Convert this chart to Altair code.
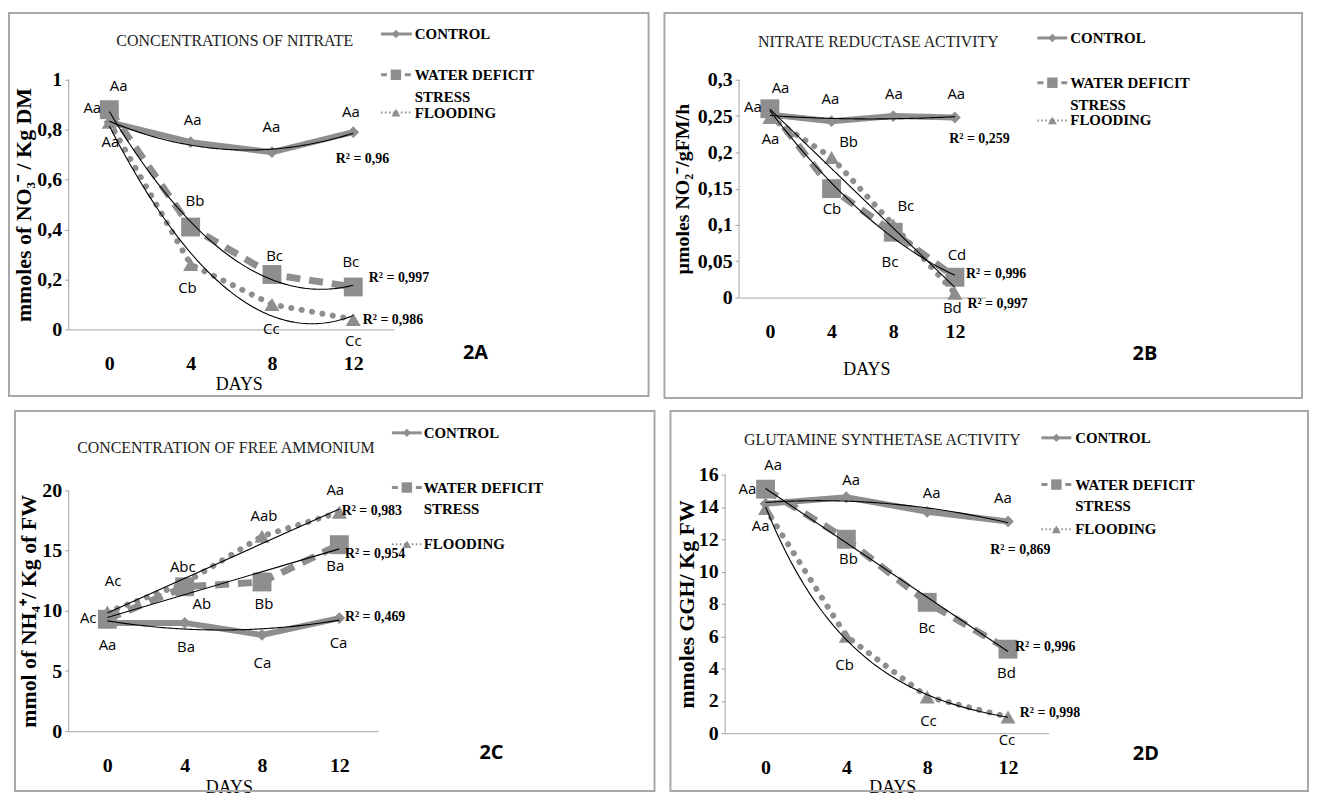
import altair as alt
import pandas as pd

DAYS = [0, 4, 8, 12]
SERIES = ["CONTROL", "WATER DEFICIT STRESS", "FLOODING"]
LEGEND_TEXT = [["CONTROL"], ["WATER DEFICIT", "STRESS"], ["FLOODING"]]

# ---------------- Panel 2A ----------------
A_TITLE = "CONCENTRATIONS OF NITRATE"
A_YTITLE = "mmoles of NO₃⁻ / Kg DM"
A_CONTROL = [0.83, 0.75, 0.71, 0.79]
A_WATER = [0.88, 0.41, 0.22, 0.17]
A_FLOOD = [0.83, 0.26, 0.10, 0.04]
A_TREND = ["poly", "poly", "poly"]
A_YTICKS = [0, 0.2, 0.4, 0.6, 0.8, 1]
A_LET = ["Aa", "Aa", "Aa", "Aa", "Aa", "Aa", "Bb", "Cb", "Bc", "Cc", "Bc", "Cc"]
A_LET_X = [0.46, -0.84, 0.05, 4.10, 7.97, 11.88, 4.21, 3.84, 8.13, 7.97, 11.88, 12.0]
A_LET_Y = [0.975, 0.888, 0.749, 0.839, 0.809, 0.869, 0.513, 0.165, 0.295, 0.0, 0.271, -0.048]
A_R2 = ["R² = 0,96", "R² = 0,997", "R² = 0,986"]
A_R2_X = [12.45, 14.25, 13.95]
A_R2_Y = [0.683, 0.207, 0.039]

# ---------------- Panel 2B ----------------
B_TITLE = "NITRATE REDUCTASE ACTIVITY"
B_YTITLE = "µmoles NO₂⁻/gFM/h"
B_CONTROL = [0.252, 0.243, 0.250, 0.248]
B_WATER = [0.260, 0.150, 0.090, 0.028]
B_FLOOD = [0.248, 0.193, 0.100, 0.006]
B_TREND = ["poly", "poly", "linear"]
B_YTICKS = [0, 0.05, 0.1, 0.15, 0.2, 0.25, 0.3]
B_LET = ["Aa", "Aa", "Aa", "Aa", "Aa", "Aa", "Bb", "Cb", "Bc", "Bc", "Cd", "Bd"]
B_LET_X = [0.69, -1.10, 0.04, 3.92, 8.04, 12.09, 5.10, 4.02, 8.82, 7.79, 12.13, 11.83]
B_LET_Y = [0.288, 0.262, 0.218, 0.273, 0.281, 0.281, 0.214, 0.122, 0.126, 0.049, 0.058, -0.014]
B_R2 = ["R² = 0,259", "R² = 0,996", "R² = 0,997"]
B_R2_X = [13.59, 14.67, 14.77]
B_R2_Y = [0.219, 0.032, -0.009]

# ---------------- Panel 2C ----------------
C_TITLE = "CONCENTRATION OF FREE AMMONIUM"
C_YTITLE = "mmol of NH₄⁺/ Kg of FW"
C_CONTROL = [9.0, 9.0, 8.0, 9.4]
C_WATER = [9.3, 12.0, 12.4, 15.5]
C_FLOOD = [9.9, 12.3, 16.2, 18.2]
C_TREND = ["poly", "linear", "linear"]
C_YTICKS = [0, 5, 10, 15, 20]
C_LET = ["Ac", "Ac", "Aa", "Abc", "Ab", "Ba", "Aab", "Bb", "Ca", "Aa", "Ba", "Ca"]
C_LET_X = [0.30, -0.99, 0.01, 3.90, 4.89, 4.07, 8.10, 8.10, 8.02, 11.79, 11.79, 11.96]
C_LET_Y = [12.45, 9.37, 7.16, 13.64, 10.6, 7.02, 17.9, 10.6, 5.65, 20.05, 13.69, 7.3]
C_R2 = ["R² = 0,983", "R² = 0,954", "R² = 0,469"]
C_R2_X = [13.68, 13.85, 13.85]
C_R2_Y = [18.32, 14.74, 9.5]

# ---------------- Panel 2D ----------------
D_TITLE = "GLUTAMINE SYNTHETASE ACTIVITY"
D_YTITLE = "mmoles GGH/ Kg FW"
D_CONTROL = [14.2, 14.6, 13.7, 13.1]
D_WATER = [15.1, 12.0, 8.1, 5.2]
D_FLOOD = [13.9, 6.0, 2.25, 1.0]
D_TREND = ["poly", "linear", "exp"]
D_YTICKS = [0, 2, 4, 6, 8, 10, 12, 14, 16]
D_LET = ["Aa", "Aa", "Aa", "Aa", "Aa", "Aa", "Bb", "Bc", "Bd", "Cb", "Cc", "Cc"]
D_LET_X = [0.38, -0.90, -0.24, 4.24, 8.22, 11.75, 4.10, 7.98, 11.92, 3.91, 8.06, 11.95]
D_LET_Y = [16.57, 15.1, 12.8, 15.67, 14.85, 14.58, 10.75, 6.52, 3.71, 4.23, 0.78, -0.45]
D_R2 = ["R² = 0,869", "R² = 0,996", "R² = 0,998"]
D_R2_X = [12.61, 13.84, 14.08]
D_R2_Y = [11.36, 5.35, 1.25]

GRAY = "#8e8e8e"
AXIS_GRAY = "#a0a0a0"
SERIF = "Liberation Serif"
SANS = "Open Sans"

LINE_STYLE = [
    dict(strokeWidth=6),
    dict(strokeWidth=7, strokeDash=[14, 9]),
    dict(strokeWidth=6, strokeDash=[0.1, 10.5], strokeCap="round"),
]
MARK_STYLE = [
    dict(shape="diamond", size=140),
    dict(shape="square", size=360),
    dict(shape="triangle-up", size=230),
]
LEG_LINE = [
    dict(strokeWidth=3),
    dict(strokeWidth=3, strokeDash=[6, 6]),
    dict(strokeWidth=2, strokeDash=[1.5, 2.5]),
]
LEG_MARK = [
    dict(shape="diamond", size=70),
    dict(shape="square", size=110),
    dict(shape="triangle-up", size=80),
]

PANELS = [
    dict(title=A_TITLE, ytitle=A_YTITLE, vals=[A_CONTROL, A_WATER, A_FLOOD], trend=A_TREND,
         yticks=A_YTICKS, ymax=1.0, let=(A_LET, A_LET_X, A_LET_Y), r2=(A_R2, A_R2_X, A_R2_Y), tag="2A",
         w=327, h=251, border=(-60, -67, 583, 318), title_xy=(167, -39), tag_xy=(409, 275),
         leg_x=(314, 345, 329, 348), leg_y=(-46, -5, 33),
         xtitle_xy=(171, 55), ytitle_x=-45, ytitle_y=None, ytitle_size=22),
    dict(title=B_TITLE, ytitle=B_YTITLE, vals=[B_CONTROL, B_WATER, B_FLOOD], trend=B_TREND,
         yticks=B_YTICKS, ymax=0.3, let=(B_LET, B_LET_X, B_LET_Y), r2=(B_R2, B_R2_X, B_R2_Y), tag="2B",
         w=248, h=219, border=(-75, -67, 566, 320), title_xy=(140, -38), tag_xy=(408, 276),
         leg_x=(300, 330, 315, 333), leg_y=(-42, 3, 41),
         xtitle_xy=(128, 72), ytitle_x=-57, ytitle_y=None, ytitle_size=20),
    dict(title=C_TITLE, ytitle=C_YTITLE, vals=[C_CONTROL, C_WATER, C_FLOOD], trend=C_TREND,
         yticks=C_YTICKS, ymax=21.32, let=(C_LET, C_LET_X, C_LET_Y), r2=(C_R2, C_R2_X, C_R2_Y), tag="2C",
         w=311, h=258, border=(-54, -64, 589, 318), title_xy=(158, -27), tag_xy=(425, 280),
         leg_x=(325, 355, 340, 357), leg_y=(-42, 13, 70),
         xtitle_xy=(161, 57), ytitle_x=-40, ytitle_y=137, ytitle_size=22),
    dict(title=D_TITLE, ytitle=D_YTITLE, vals=[D_CONTROL, D_WATER, D_FLOOD], trend=D_TREND,
         yticks=D_YTICKS, ymax=16, let=(D_LET, D_LET_X, D_LET_Y), r2=(D_R2, D_R2_X, D_R2_Y), tag="2D",
         w=325, h=260, border=(-55, -64, 586, 318), title_xy=(158, -35), tag_xy=(423, 281),
         leg_x=(318, 348, 333, 352), leg_y=(-37, 10, 55),
         xtitle_xy=(168, 55), ytitle_x=-39, ytitle_y=None, ytitle_size=22),
]

ONE = pd.DataFrame({"k": [0]})


def make_panel(p):
    rows = []
    for s, vals in zip(SERIES, p["vals"]):
        for d, v in zip(DAYS, vals):
            rows.append({"day": d, "value": v, "series": s})
    df = pd.DataFrame(rows)

    xtx, xty = p["xtitle_xy"]
    xaxis = alt.Axis(values=DAYS, title="DAYS", grid=False, tickSize=0, labelPadding=24,
                     labelFont=SERIF, labelFontWeight="bold", labelFontSize=20, labelColor="black",
                     domainColor=AXIS_GRAY, titleFont=SERIF, titleFontWeight="normal", titleFontSize=18,
                     titleColor="black", titleX=xtx, titleY=xty, titleBaseline="middle", labelFlush=False)
    ykw = dict(titleY=p["ytitle_y"]) if p["ytitle_y"] is not None else {}
    yaxis = alt.Axis(values=p["yticks"], title=p["ytitle"], grid=False, tickSize=4, tickColor=AXIS_GRAY,
                     labelPadding=3, labelExpr="replace(format(datum.value, ''), '.', ',')",
                     labelFont=SERIF, labelFontWeight="bold", labelFontSize=20, labelColor="black",
                     domain=False, titleFont=SERIF, titleFontWeight="bold",
                     titleFontSize=p["ytitle_size"], titleColor="black", titleX=p["ytitle_x"],
                     titleBaseline="middle", **ykw)
    X = alt.X("day:Q", scale=alt.Scale(domain=[-2, 14], nice=False, zero=False), axis=xaxis)
    Y = alt.Y("value:Q", scale=alt.Scale(domain=[0, p["ymax"]], nice=False), axis=yaxis)

    bl, bt, br, bb = p["border"]
    layers = [
        alt.Chart(ONE).mark_rect(fill="transparent", stroke="#a8a8a8", strokeWidth=2).encode(
            x=alt.value(bl), x2=alt.value(br), y=alt.value(bt), y2=alt.value(bb))
    ]
    # y axis line from 0 up to the last tick
    yline = pd.DataFrame({"value": [p["yticks"][0]], "top": [p["yticks"][-1]]})
    layers.append(alt.Chart(yline).mark_rule(color=AXIS_GRAY, strokeWidth=1).encode(
        x=alt.value(0), y=Y, y2="top:Q"))

    for i, s in enumerate(SERIES):
        layers.append(alt.Chart(df).transform_filter(alt.datum.series == s)
                      .mark_line(color=GRAY, **LINE_STYLE[i]).encode(x=X, y=Y))
    for i, s in enumerate(SERIES):
        layers.append(alt.Chart(df).transform_filter(alt.datum.series == s)
                      .mark_point(filled=True, color=GRAY, opacity=1, **MARK_STYLE[i]).encode(x=X, y=Y))
    for i, s in enumerate(SERIES):
        m = p["trend"][i]
        extra = {"order": 2} if m == "poly" else {}
        layers.append(alt.Chart(df).transform_filter(alt.datum.series == s)
                      .transform_regression("day", "value", method=m, **extra)
                      .mark_line(color="black", strokeWidth=1.1).encode(x=X, y=Y))

    lt, lx, ly = p["let"]
    lab = pd.DataFrame({"day": lx, "value": ly, "t": lt})
    layers.append(alt.Chart(lab).mark_text(font=SANS, fontSize=15, color="black").encode(
        x=X, y=Y, text="t:N"))
    rt, rx, ry = p["r2"]
    r2 = pd.DataFrame({"day": rx, "value": ry, "t": rt})
    layers.append(alt.Chart(r2).mark_text(font=SERIF, fontSize=14, fontWeight="bold", color="black").encode(
        x=X, y=Y, text="t:N"))

    tx, ty = p["title_xy"]
    layers.append(alt.Chart(ONE).mark_text(text=p["title"], font=SERIF, fontSize=16, color="#222222")
                  .encode(x=alt.value(tx), y=alt.value(ty)))
    gx, gy = p["tag_xy"]
    layers.append(alt.Chart(ONE).mark_text(text=p["tag"], font=SANS, fontSize=20, fontWeight="bold",
                                           color="black").encode(x=alt.value(gx), y=alt.value(gy)))
    x0, x1, xm, xt = p["leg_x"]
    for i in range(3):
        yy = p["leg_y"][i]
        layers.append(alt.Chart(ONE).mark_rule(color=GRAY, **LEG_LINE[i]).encode(
            x=alt.value(x0), x2=alt.value(x1), y=alt.value(yy)))
        layers.append(alt.Chart(ONE).mark_point(filled=True, color=GRAY, opacity=1, **LEG_MARK[i]).encode(
            x=alt.value(xm), y=alt.value(yy)))
        txt = LEGEND_TEXT[i] if len(LEGEND_TEXT[i]) > 1 else LEGEND_TEXT[i][0]
        layers.append(alt.Chart(ONE).mark_text(text=txt, font=SERIF, fontSize=15, fontWeight="bold",
                                               color="black", align="left", baseline="alphabetic",
                                               lineHeight=22)
                      .encode(x=alt.value(xt), y=alt.value(yy + 5)))

    return alt.layer(*layers).properties(width=p["w"], height=p["h"])


charts = [make_panel(p) for p in PANELS]
chart = alt.vconcat(
    alt.hconcat(charts[0], charts[1], spacing=14),
    alt.hconcat(charts[2], charts[3], spacing=14),
    spacing=11,
).properties(padding={"left": 0, "top": 2, "right": 0, "bottom": 0}
).configure_view(strokeWidth=0)

chart.save("out.html", embed_options={"renderer": "svg", "actions": False})
